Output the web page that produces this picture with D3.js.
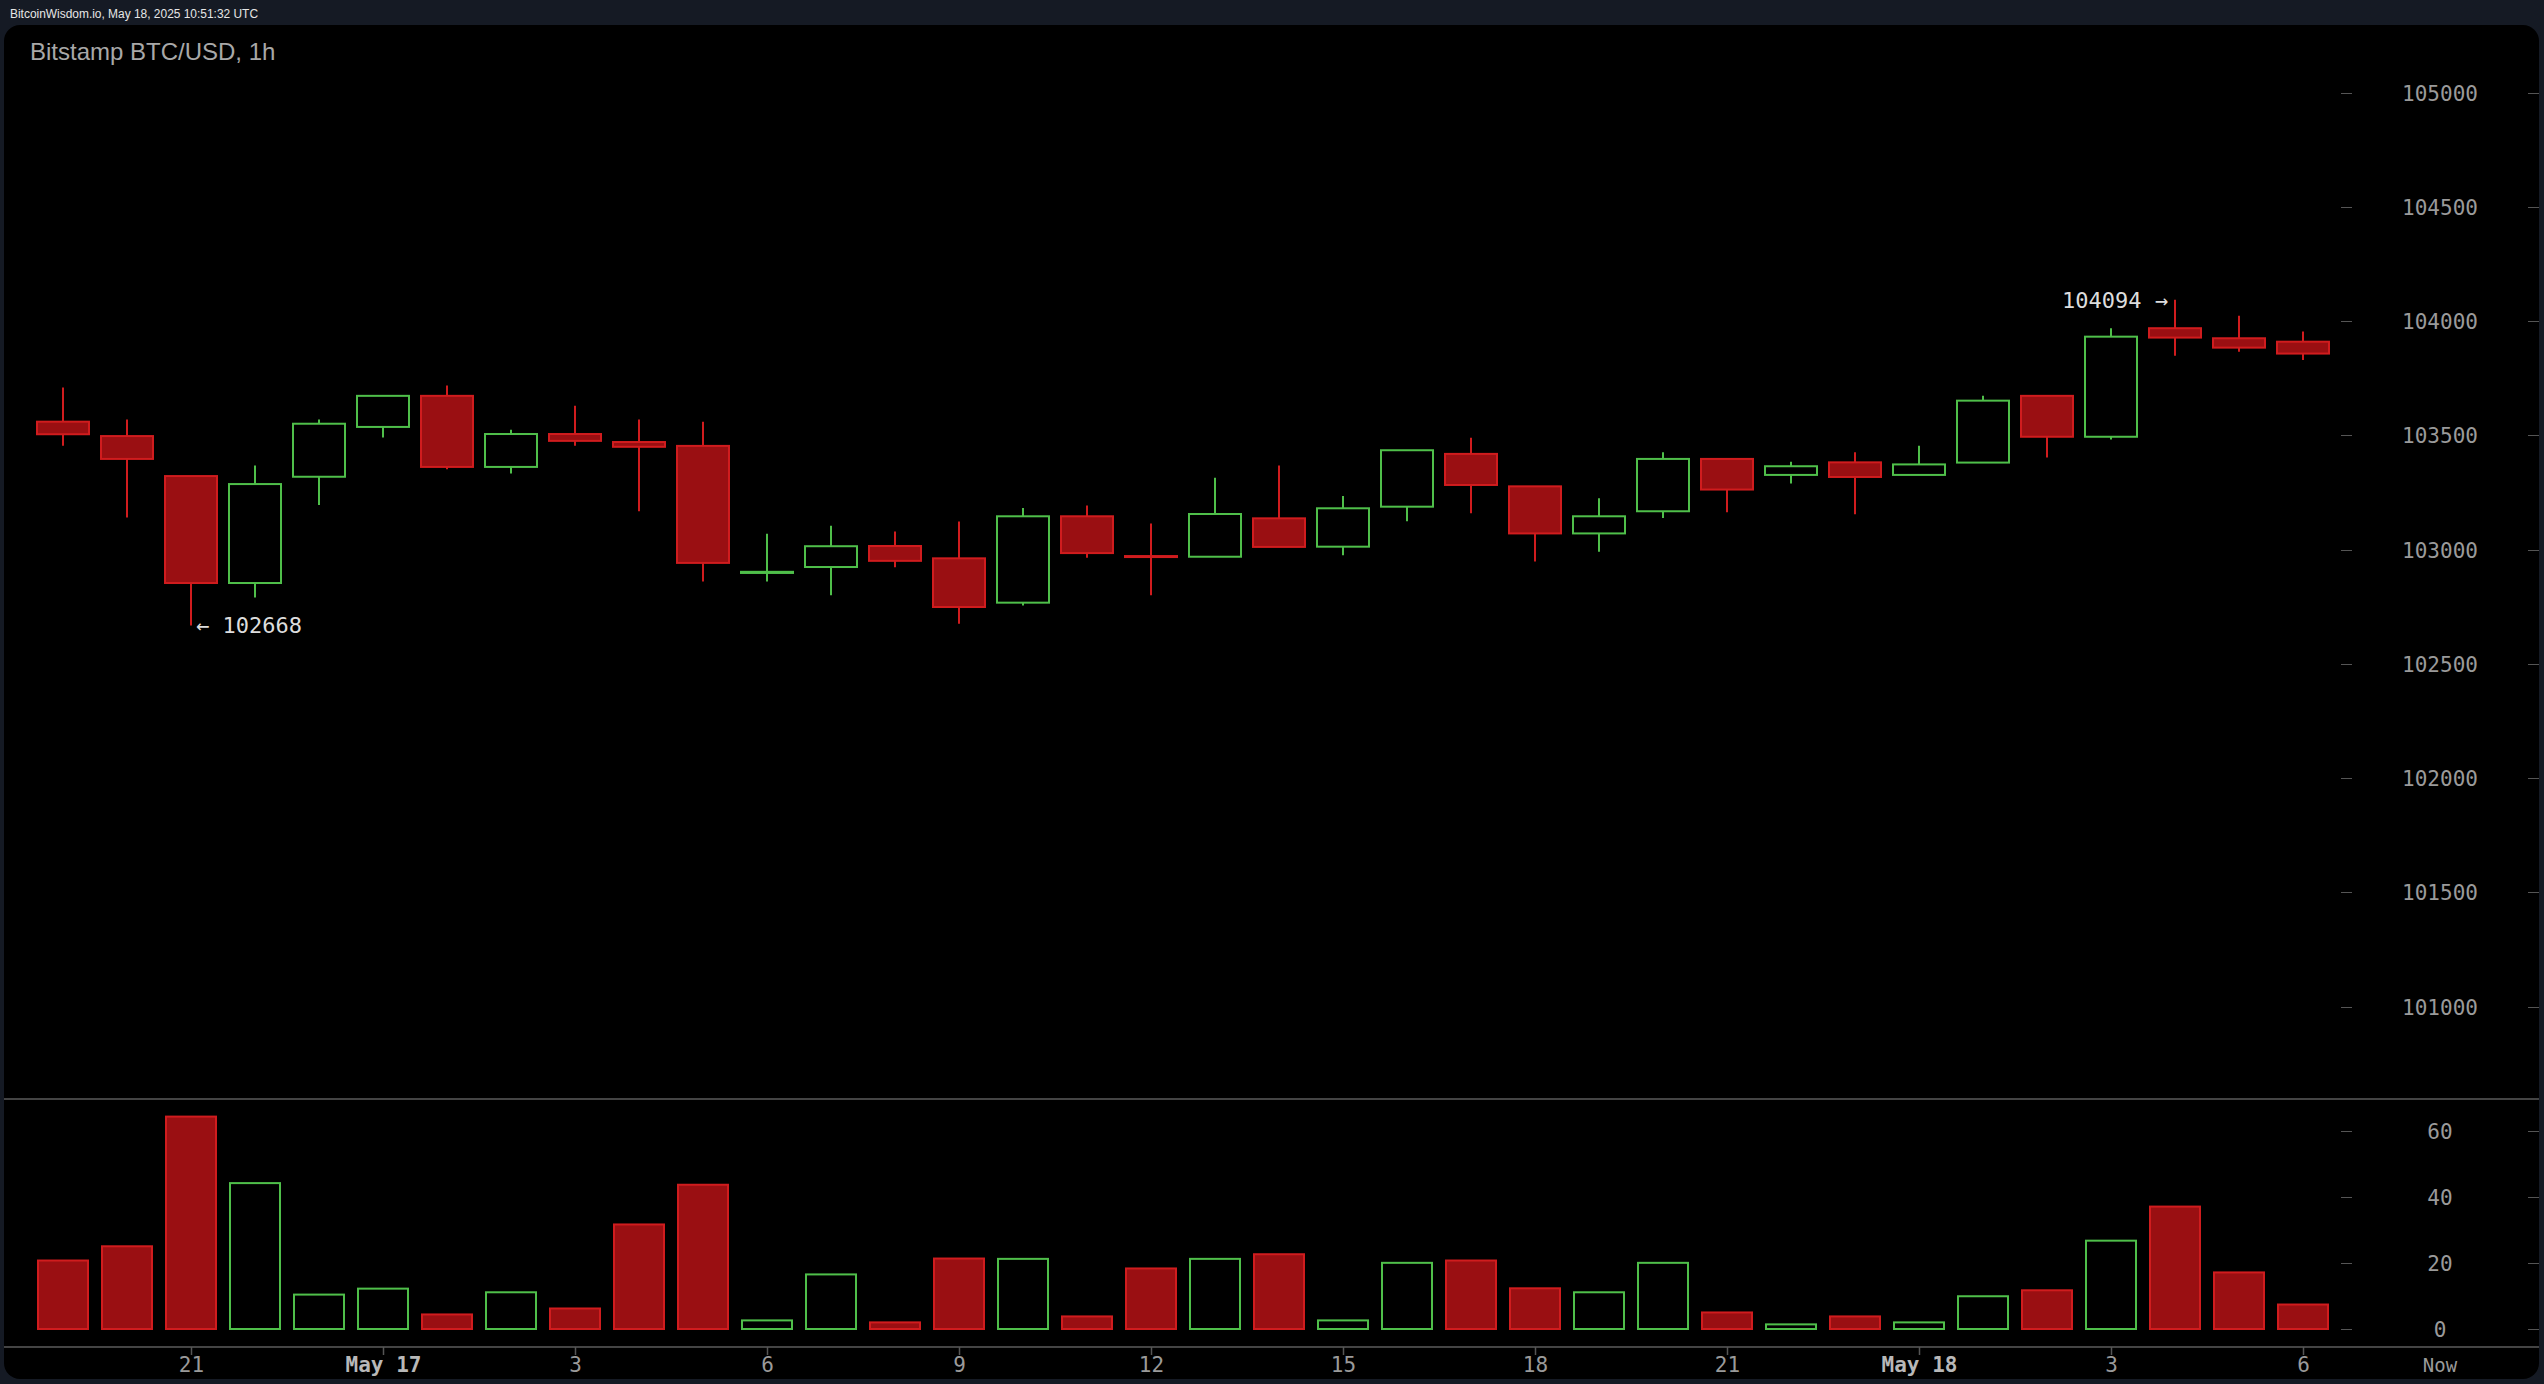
<!DOCTYPE html>
<html>
<head>
<meta charset="utf-8">
<script src="https://cdn.jsdelivr.net/npm/d3@7"></script>
<style>
  html, body { margin: 0; padding: 0; background: #151a24; overflow: hidden; }
  svg { display: block; }
</style>
</head>
<body>
<svg id="chart" width="2544" height="1384"></svg>
<script>
// ---- DATA (hourly candles, Bitstamp BTC/USD, from May 16 19:00 UTC) ----
const startHour = "2025-05-16T19:00:00Z";
const opens  = [103560,103497,103322,102854,103319,103537,103673,103362,103506,103471,
                103454,102898,102924,103016,102962,102768,103146,102972,102969,103137,
                103013,103188,103419,103277,103071,103168,103397,103327,103382,103327,
                103381,103673,103494,103969,103925,103910];
const highs  = [103710,103569,103322,103368,103569,103673,103718,103525,103630,103569,
                103560,103070,103105,103079,103123,103182,103193,103114,103315,103368,
                103235,103435,103490,103277,103225,103426,103397,103385,103426,103455,
                103673,103673,103969,104094,104023,103955];
const lows   = [103455,103141,102668,102791,103195,103491,103352,103333,103455,103168,
                102861,102861,102801,102923,102676,102756,102965,102801,102969,103012,
                102975,103124,103159,102948,102991,103139,103164,103289,103155,103327,
                103381,103403,103482,103848,103866,103830];
const closes = [103505,103397,102854,103287,103551,103673,103362,103506,103476,103450,
                102942,102903,103015,102951,102749,103146,102985,102968,103156,103012,
                103181,103435,103283,103071,103146,103397,103263,103365,103318,103373,
                103652,103494,103932,103928,103884,103858];
const volumes = [20.7,25.0,64.2,44.1,10.4,12.2,4.4,11.1,6.2,31.6,
                 43.6,2.6,16.5,2.0,21.3,21.2,3.8,18.3,21.2,22.6,
                 2.6,20.0,20.7,12.3,11.1,20.0,5.0,1.4,3.8,2.0,
                 9.9,11.7,26.7,37.0,17.1,7.4];
const priceTicks  = [101000,101500,102000,102500,103000,103500,104000,104500,105000];
const volumeTicks = [0,20,40,60];
const timeTickHours = [2,5,8,11,14,17,20,23,26,29,32,35]; // offsets from startHour
const timeTickLabels = ["21","May 17","3","6","9","12","15","18","21","May 18","3","6"];
const headerText = "BitcoinWisdom.io, May 18, 2025 10:51:32 UTC";
const titleText = "Bitstamp BTC/USD, 1h";

// ---- SETUP ----
const svg = d3.select("#chart");
const W = 2544, H = 1384;
const t0 = new Date(startHour);
const hourMs = 3600 * 1000;
const candles = opens.map((o, i) => ({
  t: new Date(t0.getTime() + i * hourMs),
  o, h: highs[i], l: lows[i], c: closes[i], v: volumes[i], up: closes[i] >= o
}));

const x = d3.scaleTime()
  .domain([t0, new Date(t0.getTime() + 35 * hourMs)])
  .range([63, 2303]);
const yP = d3.scaleLinear().domain([101000, 105000]).range([1006.7, 92.6]);
const yV = d3.scaleLinear().domain([0, 60]).range([1329, 1130.5]);

const RED_FILL = "#9a0f12", RED = "#d01c1e", GREEN = "#4fbf4a";
const bodyW = 52;
const mono = "'DejaVu Sans Mono', monospace";

// Background
svg.append("rect").attr("width", W).attr("height", H).attr("fill", "#151a24");
svg.append("rect").attr("x", 4).attr("y", 25).attr("width", 2535).attr("height", 1354)
  .attr("rx", 16).attr("fill", "#000");

svg.append("text").attr("x", 10).attr("y", 18).attr("fill", "#e6e6e6")
  .attr("font-family", "Liberation Sans, Arial, sans-serif").attr("font-size", 12)
  .attr("textLength", 248).attr("lengthAdjust", "spacingAndGlyphs")
  .text(headerText);
svg.append("text").attr("x", 30).attr("y", 60).attr("fill", "#a8a8a8")
  .attr("font-family", "Liberation Sans, Arial, sans-serif").attr("font-size", 24)
  .text(titleText);

// Pane separators
svg.append("line").attr("x1", 4).attr("x2", 2539).attr("y1", 1099).attr("y2", 1099)
  .attr("stroke", "#444").attr("stroke-width", 2);
svg.append("line").attr("x1", 4).attr("x2", 2539).attr("y1", 1347).attr("y2", 1347)
  .attr("stroke", "#444").attr("stroke-width", 2);

// Price axis
const pAxis = svg.append("g");
priceTicks.forEach(p => {
  const yy = Math.round(yP(p)) + 0.5;
  pAxis.append("line").attr("x1", 2341).attr("x2", 2352).attr("y1", yy).attr("y2", yy).attr("stroke", "#555");
  pAxis.append("line").attr("x1", 2528).attr("x2", 2539).attr("y1", yy).attr("y2", yy).attr("stroke", "#555");
  pAxis.append("text").attr("x", 2440).attr("y", yy).attr("dy", "0.36em")
    .attr("text-anchor", "middle").attr("fill", "#9a9a9a")
    .attr("font-family", mono).attr("font-size", 21).text(p);
});
// Volume axis
volumeTicks.forEach(v => {
  const yy = Math.round(yV(v)) + 0.5;
  pAxis.append("line").attr("x1", 2341).attr("x2", 2352).attr("y1", yy).attr("y2", yy).attr("stroke", "#555");
  pAxis.append("line").attr("x1", 2528).attr("x2", 2539).attr("y1", yy).attr("y2", yy).attr("stroke", "#555");
  pAxis.append("text").attr("x", 2440).attr("y", yy).attr("dy", "0.36em")
    .attr("text-anchor", "middle").attr("fill", "#9a9a9a")
    .attr("font-family", mono).attr("font-size", 21).text(v);
});

// Time axis
timeTickHours.forEach((hOff, i) => {
  const xx = Math.round(x(new Date(t0.getTime() + hOff * hourMs))) + 0.5;
  const isDate = timeTickLabels[i].startsWith("May");
  svg.append("line").attr("x1", xx).attr("x2", xx).attr("y1", 1347).attr("y2", 1355)
    .attr("stroke", "#555").attr("stroke-width", 1.5);
  svg.append("text").attr("x", xx).attr("y", 1372).attr("text-anchor", "middle")
    .attr("fill", isDate ? "#b8b8b8" : "#9a9a9a")
    .attr("font-weight", isDate ? "bold" : "normal")
    .attr("font-family", mono).attr("font-size", 21).text(timeTickLabels[i]);
});
svg.append("text").attr("x", 2440).attr("y", 1372).attr("text-anchor", "middle")
  .attr("fill", "#9a9a9a").attr("font-family", mono).attr("font-size", 19).text("Now");

// Candles
const cg = svg.append("g");
const g = cg.selectAll("g.c").data(candles).enter().append("g");
g.append("line")
  .attr("x1", d => Math.round(x(d.t))).attr("x2", d => Math.round(x(d.t)))
  .attr("y1", d => yP(d.h)).attr("y2", d => yP(d.l))
  .attr("stroke", d => d.up ? GREEN : RED).attr("stroke-width", 2);
g.append("rect")
  .attr("x", d => Math.round(x(d.t)) - bodyW / 2)
  .attr("y", d => yP(Math.max(d.o, d.c)))
  .attr("width", bodyW)
  .attr("height", d => Math.max(1, Math.abs(yP(d.o) - yP(d.c))))
  .attr("fill", d => d.up ? "#000" : RED_FILL)
  .attr("stroke", d => d.up ? GREEN : RED).attr("stroke-width", 2);

// Volume bars
svg.append("g").selectAll("rect").data(candles).enter().append("rect")
  .attr("x", d => Math.round(x(d.t)) - bodyW / 2 + 1)
  .attr("y", d => yV(d.v))
  .attr("width", bodyW - 2)
  .attr("height", d => yV(0) - yV(d.v))
  .attr("fill", d => d.up ? "#000" : RED_FILL)
  .attr("stroke", d => d.up ? GREEN : RED).attr("stroke-width", 2);

// High / low annotations
const lowIdx = d3.minIndex(candles, d => d.l);
const highIdx = d3.maxIndex(candles, d => d.h);
const lc = candles[lowIdx], hc = candles[highIdx];
svg.append("text").attr("x", x(lc.t) + 5).attr("y", yP(lc.l)).attr("dy", "0.36em")
  .attr("fill", "#dddddd").attr("font-family", mono).attr("font-size", 22)
  .text("\u2190 " + lc.l);
svg.append("text").attr("x", x(hc.t) - 7).attr("y", yP(hc.h)).attr("dy", "0.36em")
  .attr("text-anchor", "end")
  .attr("fill", "#dddddd").attr("font-family", mono).attr("font-size", 22)
  .text(hc.h + " \u2192");
</script>
</body>
</html>
